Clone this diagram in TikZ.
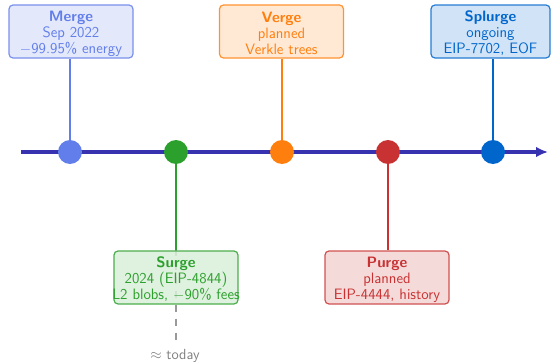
\documentclass[tikz,border=0pt]{standalone}
\usetikzlibrary{arrows.meta}
\definecolor{mergec}{HTML}{627EEA}
\definecolor{surgec}{HTML}{2CA02C}
\definecolor{vergec}{HTML}{FF7F0E}
\definecolor{purgec}{HTML}{C83232}
\definecolor{splurgec}{HTML}{0066CC}
\definecolor{axisc}{RGB}{55,50,175}
\begin{document}
\begin{tikzpicture}[x=0.75pt,y=-0.75pt,font=\sffamily,
  phase/.style={draw=#1!85!white, fill=#1!18!white, line width=0.9pt, rounded corners=3pt,
    minimum width=93pt, minimum height=39.75pt, inner sep=0pt},
  phasetxt/.style={text=#1, align=center, inner sep=0pt, yshift=-1.5pt, font=\sffamily\fontsize{11.3}{12}\selectfont},
  dot/.style={circle, fill=#1, minimum size=18pt, inner sep=0pt},
  conn/.style={draw=#1, line width=1.5pt}]
\useasboundingbox (0,0) rectangle (551,364);
% axis
\coordinate (axstart) at (21,152);
\coordinate (axend) at (548,152);
\draw[axisc, line width=2.6pt, -{Latex[length=9pt,width=8pt]}] (axstart) -- (axend);
% dots coordinates
\coordinate (pm) at (70,152);
\coordinate (ps) at (176,152);
\coordinate (pv) at (282,152);
\coordinate (pp) at (388,152);
\coordinate (pl) at (493,152);
% boxes
\node[phase=mergec] (mergebox) at (71,31.5) {};
\node[phase=vergec] (vergebox) at (281.5,31.5) {};
\node[phase=splurgec, minimum width=89.25pt] (splurgebox) at (490.5,31.5) {};
% today line
\coordinate (today) at (176,346);
\draw[gray!80, line width=0.9pt, dash pattern=on 5.5pt off 5pt, dash phase=1pt] (ps) -- (today);
\node[phase=surgec, fill opacity=0.85] (surgebox) at (176,277.5) {};
\node[phase=purgec] (purgebox) at (387,277.5) {};
% connectors
\draw[conn=mergec] (pm) -- (mergebox.south -| pm);
\draw[conn=vergec] (pv) -- (vergebox.south -| pv);
\draw[conn=splurgec] (pl) -- (splurgebox.south -| pl);
\draw[conn=surgec] (ps) -- (surgebox.north -| ps);
\draw[conn=purgec] (pp) -- (purgebox.north -| pp);
% dots
\node[dot=mergec] (dm) at (pm) {};
\node[dot=surgec] (ds) at (ps) {};
\node[dot=vergec] (dv) at (pv) {};
\node[dot=purgec] (dp) at (pp) {};
\node[dot=splurgec] (dl) at (pl) {};
% texts
\node[phasetxt=mergec] (mergetxt) at (mergebox) {\textbf{Merge}\\Sep 2022\\$-$99.95\% energy};
\node[phasetxt=vergec] (vergetxt) at (vergebox) {\textbf{Verge}\\planned\\Verkle trees};
\node[phasetxt=splurgec] (splurgetxt) at (splurgebox) {\textbf{Splurge}\\ongoing\\EIP-7702, EOF};
\node[phasetxt=surgec] (surgetxt) at (surgebox) {\textbf{Surge}\\2024 (EIP-4844)\\L2 blobs, $-$90\% fees};
\node[phasetxt=purgec] (purgetxt) at (purgebox) {\textbf{Purge}\\planned\\EIP-4444, history};
\node[text=gray, font=\sffamily\fontsize{11}{12}\selectfont] (todaytxt) at (175,356) {$\approx$ today};
\end{tikzpicture}
\end{document}
